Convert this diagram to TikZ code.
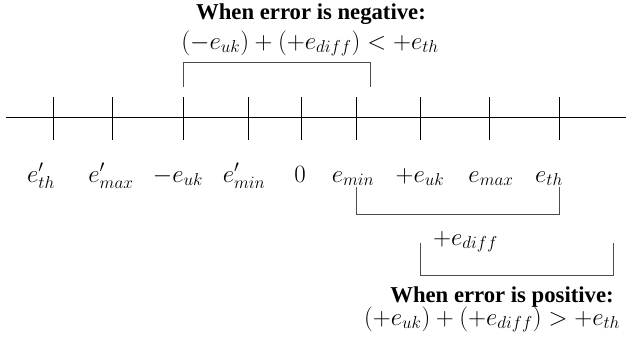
\documentclass[tikz,border=0pt]{standalone}
\usepackage[no-math]{fontspec}
\newfontfamily\titlefont{Liberation Serif}
\begin{document}
\begin{tikzpicture}[x=1pt,y=-1pt,
  axisline/.style={line width=0.9pt,black},
  tickline/.style={line width=0.9pt,black},
  bracketline/.style={line width=0.9pt,black!70},
  lbl/.style={anchor=base,inner sep=0pt,font=\fontsize{24}{28}\selectfont},
  ttl/.style={anchor=base,inner sep=0pt,font=\fontsize{22.7}{27}\selectfont\titlefont\bfseries}]
\useasboundingbox (0,0) rectangle (626,345);
% axis
\coordinate (axL) at (6,117);
\coordinate (axR) at (626,117);
\draw[axisline] (axL) -- (axR);
% ticks
\foreach \n/\x in {t1/53,t2/112,t3/183,t4/248,t5/301,t6/356,t7/420,t8/489,t9/559}{
  \coordinate (\n top) at (\x,97);
  \coordinate (\n bot) at (\x,140);
  \draw[tickline] (\n top) -- (\n bot);
}
% labels
\node[lbl] (l1) at (41,182) {$e'_{th}$};
\node[lbl] (l2) at (111,182) {$e'_{max}$};
\node[lbl] (l3) at (178,182) {$-e_{uk}$};
\node[lbl] (l4) at (244,182) {$e'_{min}$};
\node[lbl] (l5) at (300,182) {$0$};
\node[lbl] (l6) at (353,182) {$e_{min}$};
\node[lbl] (l7) at (420,182) {$+e_{uk}$};
\node[lbl] (l8) at (491,182) {$e_{max}$};
\node[lbl] (l9) at (549,182) {$e_{th}$};
% negative bracket
\coordinate (nb1) at (183,87);
\coordinate (nb2) at (183,62);
\coordinate (nb3) at (370,62);
\coordinate (nb4) at (370,87);
\draw[bracketline] (nb1) -- (nb2) -- (nb3) -- (nb4);
\node[ttl] (negtitle) at (311,20) {When error is negative:};
\node[lbl] (negform) at (310,49) {$(-e_{uk})+(+e_{diff})<+e_{th}$};
% positive brackets
\coordinate (pb1) at (356,187);
\coordinate (pb2) at (356,214);
\coordinate (pb3) at (559,214);
\coordinate (pb4) at (559,187);
\draw[bracketline] (pb1) -- (pb2) -- (pb3) -- (pb4);
\node[lbl,anchor=base west] (ediff) at (433,245) {$+e_{diff}$};
\coordinate (qb1) at (420,243);
\coordinate (qb2) at (420,275);
\coordinate (qb3) at (613,275);
\coordinate (qb4) at (613,243);
\draw[bracketline] (qb1) -- (qb2) -- (qb3) -- (qb4);
\node[ttl] (postitle) at (502,302) {When error is positive:};
\node[lbl] (posform) at (492,325) {$(+e_{uk})+(+e_{diff})>+e_{th}$};
\end{tikzpicture}
\end{document}
